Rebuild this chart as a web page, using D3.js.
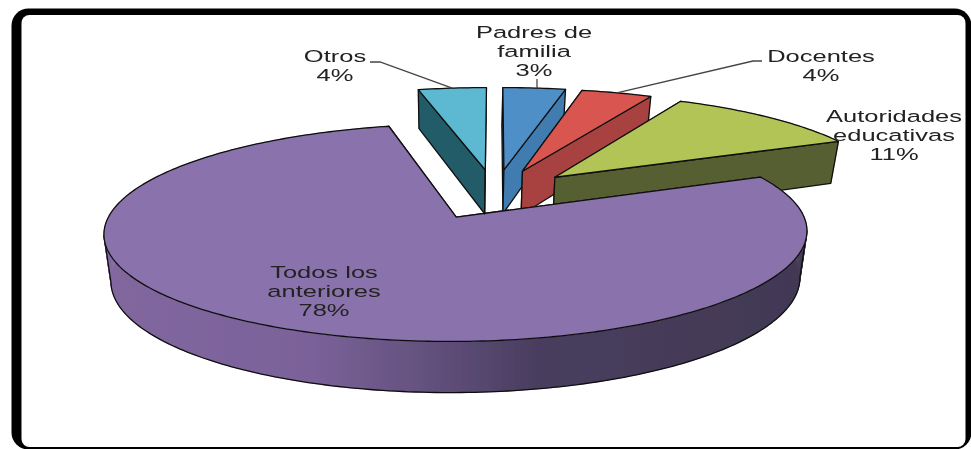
<!DOCTYPE html>
<html>
<head>
<meta charset="utf-8">
<script src="https://d3js.org/d3.v7.min.js"></script>
<style>
  html, body { margin: 0; padding: 0; background: #fff; overflow: hidden; }
  svg { display: block; }
  text { font-family: "Liberation Sans", Arial, sans-serif; font-size: 17px; fill: #222; }
</style>
</head>
<body>
<div id="chart"></div>
<script>
// data (angles say the labels are rounded)
var categories = ["Padres de familia", "Docentes", "Autoridades educativas", "Todos los anteriores", "Otros"];
var values = [3.49, 3.95, 11.06, 77.7, 3.8];
var labelLines = [["Padres de", "familia"], ["Docentes"], ["Autoridades", "educativas"], ["Todos los", "anteriores"], ["Otros"]];

var topColors = ["#4f8fc8", "#d8564f", "#b3c456", "#8a73ac", "#5cb9d1"];
var sideColors = ["#3f7cb0", "#a84340", "#565f33", "url(#wallGrad)", "#245b68"];

var svgWidth = 971;
var svgHeight = 449;

var svg = d3.select("#chart")
  .append("svg")
  .attr("width", svgWidth)
  .attr("height", svgHeight);

var defs = svg.append("defs");
defs.append("filter").attr("id", "soft")
  .attr("filterUnits", "userSpaceOnUse")
  .attr("x", 0).attr("y", 0)
  .attr("width", svgWidth).attr("height", svgHeight)
  .append("feGaussianBlur").attr("stdDeviation", 0.45);

var chart = svg.append("g").attr("filter", "url(#soft)");

// frame
chart.append("rect").attr("x", 11.5).attr("y", 8.5).attr("width", 960).attr("height", 441).attr("rx", 17).attr("fill", "#000");
chart.append("rect").attr("x", 21.5).attr("y", 15).attr("width", 944).attr("height", 432).attr("rx", 8).attr("fill", "#fff");

// pie plane to screen, with a bit of perspective
var persp = 0.139;
var explode = 0.25;
var xScale = d3.scaleLinear().domain([-1, 1]).range([495 - 337, 495 + 337]);
var yScale = d3.scaleLinear().domain([-1, 1]).range([194 + 100, 194 - 100]);

function project(px, py, lower) {
  var w = 1 + persp * py;
  var x = xScale(px / w);
  var y = yScale(py / w);
  if (lower) {
    // bottom of the disc: narrower towards the middle, deeper at the front
    x = 454 + (x - 454) * 0.98;
    y = y + 45 - 5 * py;
  }
  return [x, y];
}

var grad = defs.append("linearGradient")
  .attr("id", "wallGrad")
  .attr("gradientUnits", "userSpaceOnUse")
  .attr("x1", 100).attr("x2", 810).attr("y1", 0).attr("y2", 0);
[[0, "#82679f"], [0.3, "#7a6299"], [0.45, "#65527f"], [0.62, "#483d5e"], [1, "#423953"]].forEach(function(s) {
  grad.append("stop").attr("offset", s[0]).attr("stop-color", s[1]);
});

var pie = d3.pie().sort(null).value(function(d) { return d; });
var arcs = pie(values);
var line = d3.line();

function toPath(pts) { return line(pts) + "Z"; }

function sliceGeom(arc) {
  var mid = (arc.startAngle + arc.endAngle) / 2;
  var ox = explode * Math.sin(mid);
  var oy = explode * Math.cos(mid);
  var rim = d3.range(0, 1.0001, 1 / Math.max(2, Math.ceil((arc.endAngle - arc.startAngle) * 60))).map(function(t) {
    var a = arc.startAngle + t * (arc.endAngle - arc.startAngle);
    return [ox + Math.sin(a), oy + Math.cos(a)];
  });
  return { centre: [ox, oy], rim: rim, mid: mid };
}

var pieGroup = chart.append("g")
  .attr("stroke", "#111")
  .attr("stroke-width", 1.3)
  .attr("stroke-linejoin", "round");

arcs.forEach(function(arc, i) {
  var g = sliceGeom(arc);
  var upper = function(p) { return project(p[0], p[1], false); };
  var under = function(p) { return project(p[0], p[1], true); };
  var first = g.rim[0];
  var last = g.rim[g.rim.length - 1];

  // outer wall as a strip of quads so the sides of the disc close up
  var strip = d3.pairs(g.rim).map(function(pair) {
    return toPath([upper(pair[0]), upper(pair[1]), under(pair[1]), under(pair[0])]);
  }).join("");
  pieGroup.append("path")
    .attr("d", strip)
    .attr("fill", sideColors[i])
    .attr("stroke", sideColors[i])
    .attr("stroke-width", 0.6);

  // outline only on the part of the rim that faces us
  var rimX = g.rim.map(function(p) { return upper(p)[0]; });
  var iRight = d3.greatestIndex(rimX);
  var iLeft = d3.leastIndex(rimX);
  if (iRight < iLeft) {
    var front = g.rim.slice(iRight, iLeft + 1);
    pieGroup.append("path")
      .attr("d", line([upper(front[0])].concat(front.map(under), [upper(front[front.length - 1])])))
      .attr("fill", "none");
  }

  // cut faces, the top face goes over whichever faces back
  [first, last].forEach(function(p) {
    pieGroup.append("path")
      .attr("d", toPath([upper(g.centre), upper(p), under(p), under(g.centre)]))
      .attr("fill", sideColors[i]);
  });
  pieGroup.append("path")
    .attr("d", toPath([upper(g.centre)].concat(g.rim.map(upper))))
    .attr("fill", topColors[i]);
});

// label layout, text is stretched wide like in the picture
var labelPos = [[534, 38], [821, 62], [894, 122], [324, 278], [335, 62]];
var fmt = function(v) { return Math.round(v) + "%"; };

labelLines.forEach(function(lines, i) {
  var rows = lines.concat([fmt(values[i])]);
  rows.forEach(function(row, j) {
    chart.append("text")
      .attr("transform", "translate(" + labelPos[i][0] + "," + (labelPos[i][1] + j * 19) + ") scale(1.5,1)")
      .attr("text-anchor", "middle")
      .text(row);
  });
});

// leader lines, from label to the outer rim of the slice
function rimMid(i) {
  var g = sliceGeom(arcs[i]);
  var p = [g.centre[0] + Math.sin(g.mid), g.centre[1] + Math.cos(g.mid)];
  return project(p[0], p[1], false);
}
var leaderStarts = { 0: [[537, 79]], 1: [[762, 61], [753, 61]], 4: [[370, 62], [380, 62]] };
Object.keys(leaderStarts).forEach(function(k) {
  var end = rimMid(+k);
  var pts = leaderStarts[k].concat([k == 0 ? [537, end[1]] : end]);
  chart.append("path")
    .attr("d", line(pts))
    .attr("fill", "none")
    .attr("stroke", "#444")
    .attr("stroke-width", 1.3);
});
</script>
</body>
</html>
